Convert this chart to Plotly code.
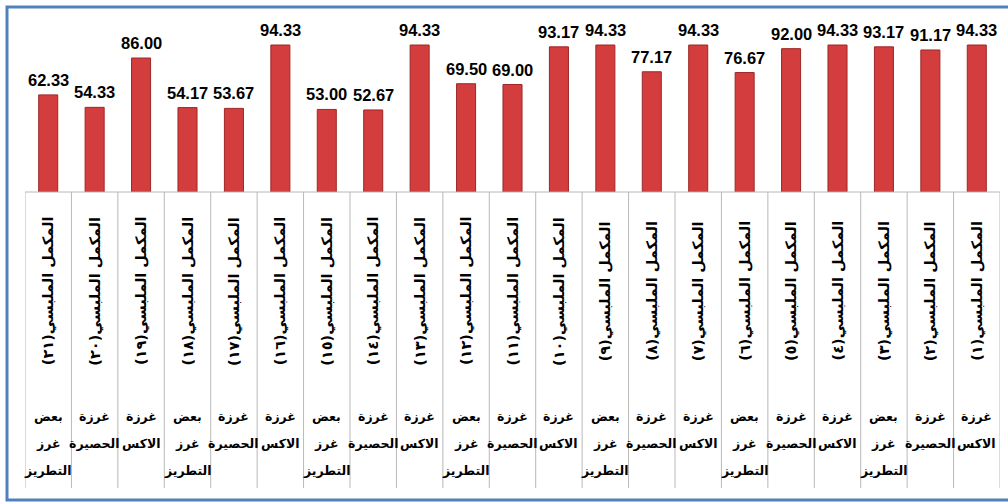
import plotly.graph_objects as go

# category numbers (1 at the right), stitch names and values
nums = ["١", "٢", "٣", "٤", "٥", "٦", "٧", "٨", "٩", "١٠", "١١", "١٢", "١٣", "١٤", "١٥", "١٦", "١٧", "١٨", "١٩", "٢٠", "٢١"]
stitches = ["غرزة الاكس", "غرزة الحصيرة", "بعض غرز التطريز"] * 7
values = [94.33, 91.17, 93.17, 94.33, 92.00, 76.67, 94.33, 77.17, 94.33, 93.17,
          69.00, 69.50, 94.33, 52.67, 53.00, 94.33, 53.67, 54.17, 86.00, 54.33, 62.33]
item_labels = ["المكمل الملبسي(" + n + ")" for n in nums]

W, H = 1008, 502
ML, MR, MT = 25, 8, 20
BASE = 192
MB = H - BASE
PH = BASE - MT

def py(pix):
    return (BASE - pix) / PH

def px(pix):
    return (pix - ML) / (W - ML - MR)

xs = list(range(1, len(values) + 1))

fig = go.Figure()
fig.add_trace(go.Bar(
    x=xs, y=values, width=0.41,
    marker=dict(color="#d43d3d", line=dict(color="#9e2626", width=1)),
    hoverinfo="skip",
))

ann = []
arabic_font = "DejaVu Sans"
for x, v in zip(xs, values):
    ann.append(dict(x=x, y=v, xref="x", yref="y", text="<b>%.2f</b>" % v,
                    showarrow=False, yanchor="bottom", yshift=4,
                    font=dict(family="Liberation Sans, Arial", size=16.5, color="#000")))
for x, lab in zip(xs, item_labels):
    ann.append(dict(x=x, y=py(291), xref="x", yref="paper", text="<b>" + lab + "</b>",
                    showarrow=False, textangle=-90, xanchor="center", yanchor="middle",
                    font=dict(family=arabic_font, size=14.5, color="#000")))
line_y = [416, 443, 470]
for x, st in zip(xs, stitches):
    for k, w in enumerate(st.split(" ")):
        ann.append(dict(x=x, y=py(line_y[k]), xref="x", yref="paper", text="<b>" + w + "</b>",
                        showarrow=False, xanchor="center", yanchor="middle",
                        font=dict(family=arabic_font, size=12.5, color="#000")))

shapes = []
for b in range(len(values) + 1):
    shapes.append(dict(type="line", xref="x", yref="paper", x0=b + 0.5, x1=b + 0.5,
                       y0=0, y1=py(488), line=dict(color="#b8b8b8", width=1)))
shapes.append(dict(type="line", xref="paper", yref="paper", x0=0, x1=1, y0=0, y1=0,
                   line=dict(color="#b8b8b8", width=1)))
shapes.append(dict(type="rect", xref="paper", yref="paper", x0=px(7), x1=px(1030),
                   y0=py(500), y1=py(7), line=dict(color="#4f81bd", width=3)))

fig.update_layout(
    width=W, height=H,
    margin=dict(l=ML, r=MR, t=MT, b=MB),
    paper_bgcolor="white", plot_bgcolor="white",
    showlegend=False,
    xaxis=dict(range=[len(values) + 0.5, 0.5], showticklabels=False, showgrid=False,
               zeroline=False, showline=False, ticks=""),
    yaxis=dict(range=[0, PH / 1.558], showticklabels=False, showgrid=False,
               zeroline=False, showline=False, ticks=""),
    annotations=ann, shapes=shapes,
    bargap=0.59,
)

fig.write_html("out.html", config={"displayModeBar": False},
               post_script="document.body.style.margin='0';document.body.style.overflow='hidden';")
